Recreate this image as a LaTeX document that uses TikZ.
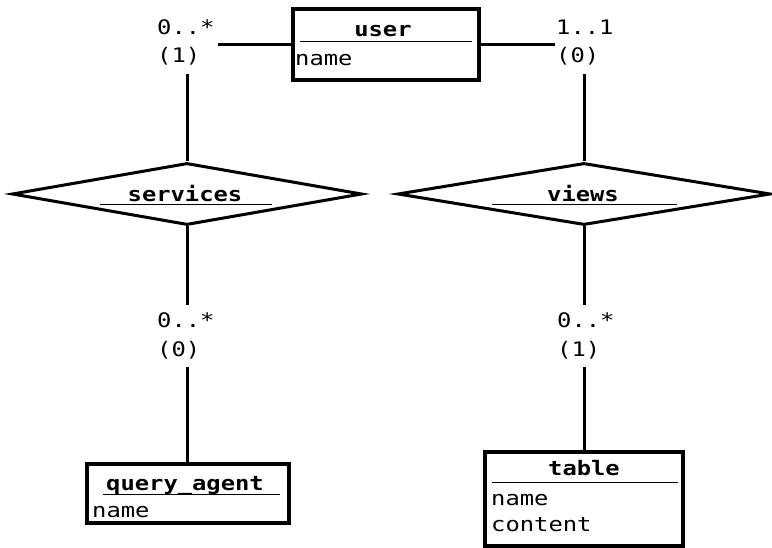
\documentclass[tikz,border=0pt]{standalone}
\usepackage{fontspec}
\usetikzlibrary{shapes.geometric}
\newfontfamily\erfont[FakeStretch=1.19]{DejaVu Sans Mono}
\begin{document}
\begin{tikzpicture}[x=1pt,y=-1pt,
  entbox/.style={draw, rectangle, line width=3.5pt, inner sep=0pt},
  reln/.style={draw, diamond, line width=3pt, inner sep=0pt, minimum height=62pt},
  conn/.style={line width=3pt},
  rulebar/.style={line width=1pt},
  hd/.style={font={\erfont\bfseries\fontsize{20}{24}\selectfont}, inner sep=0pt, anchor=base},
  attr/.style={font={\erfont\fontsize{20}{24}\selectfont}, inner sep=0pt, anchor=base west},
  card/.style={font={\erfont\fontsize{20}{24}\selectfont}, inner sep=0pt, anchor=base west}]
\useasboundingbox (0,0) rectangle (772,548);

% entities
\node[entbox, minimum width=186pt, minimum height=71pt] (user) at (386,44.5) {};
\node[hd] (userh) at (383,37) {user};
\draw[rulebar] (300,42) -- (472,42);
\node[attr] (usera) at (295,66) {name};

\node[entbox, minimum width=202pt, minimum height=59pt] (agent) at (188,493.5) {};
\node[hd] (agenth) at (185,490) {query\_agent};
\draw[rulebar] (103,494) -- (280,494);
\node[attr] (agenta) at (92,517) {name};

\node[entbox, minimum width=198pt, minimum height=94pt] (table) at (584,499) {};
\node[hd] (tableh) at (584,475) {table};
\draw[rulebar] (492,482) -- (678,482);
\node[attr] (tablea) at (491,505) {name};
\node[attr] (tableb) at (491,531) {content};

% relationships
\node[reln, minimum width=350pt] (services) at (187,194) {};
\node[hd] (servicesh) at (185,202) {services};
\draw[rulebar] (100,205) -- (272,205);

\node[reln, minimum width=373pt] (views) at (584,194) {};
\node[hd] (viewsh) at (583,202) {views};
\draw[rulebar] (492,205) -- (677,205);

% cardinality labels
\node[card] (c1a) at (157,35) {0..*};
\node[card] (c1b) at (157,63) {(1)};
\node[card] (c2a) at (556,35) {1..1};
\node[card] (c2b) at (556,63) {(0)};
\node[card] (c3a) at (157,328) {0..*};
\node[card] (c3b) at (157,356) {(0)};
\node[card] (c4a) at (557,328) {0..*};
\node[card] (c4b) at (557,356) {(1)};

% connector ends at the labels
\coordinate (p1) at (218,45);
\coordinate (q1) at (187,74);
\coordinate (p2) at (555,45);
\coordinate (q2) at (584,74);
\coordinate (p3) at (187,305);
\coordinate (q3) at (187,367);
\coordinate (p4) at (584,305);
\coordinate (q4) at (584,367);

\draw[conn] (user.west |- p1) -- (p1);
\draw[conn] (q1) -- (services.north);
\draw[conn] (user.east |- p2) -- (p2);
\draw[conn] (q2) -- (views.north);
\draw[conn] (services.south) -- (p3);
\draw[conn] (q3) -- (q3 |- agent.north);
\draw[conn] (views.south) -- (p4);
\draw[conn] (q4) -- (q4 |- table.north);
\end{tikzpicture}
\end{document}
